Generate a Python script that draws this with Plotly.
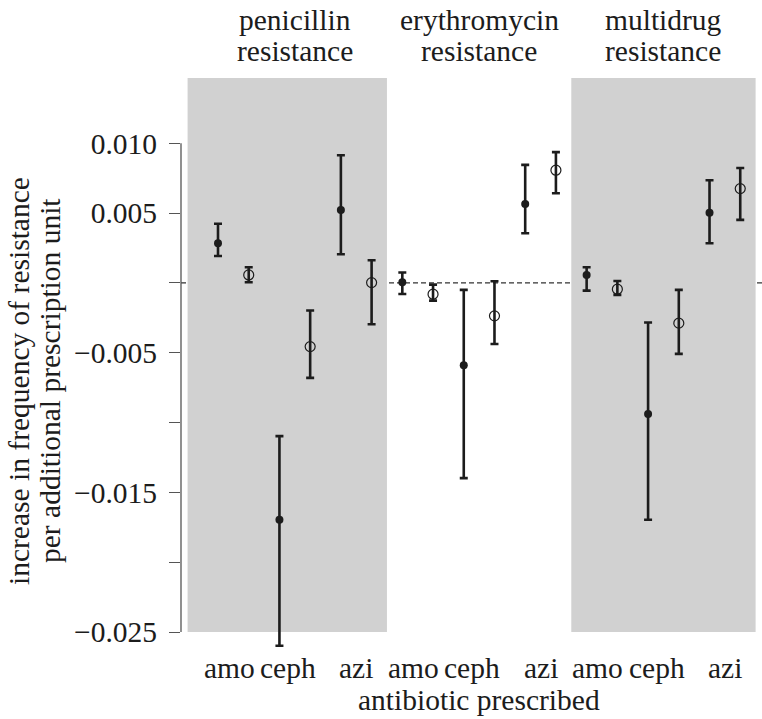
import plotly.graph_objects as go

# ---- data ----
group_line1 = ["penicillin", "erythromycin", "multidrug"]
group_line2 = ["resistance", "resistance", "resistance"]
antibiotics = ["amo", "ceph", "azi"]

# order: penicillin(amo, ceph, azi), erythromycin(amo, ceph, azi), multidrug(amo, ceph, azi)
filled_mean = [0.00284, -0.01696, 0.00522, 0.00005, -0.00589, 0.00565, 0.00057, -0.00938, 0.00503]
filled_hi = [0.00424, -0.01097, 0.00914, 0.00074, -0.00050, 0.00845, 0.00112, -0.00284, 0.00735]
filled_lo = [0.00193, -0.02598, 0.00205, -0.00079, -0.01398, 0.00356, -0.00055, -0.01696, 0.00284]

open_mean = [0.00057, -0.00456, 0.00002, -0.00081, -0.00236, 0.00807, -0.00045, -0.00288, 0.00675]
open_hi = [0.00112, -0.00198, 0.00162, -0.00012, 0.00012, 0.00936, 0.00014, -0.00050, 0.00823]
open_lo = [0.00005, -0.00680, -0.00296, -0.00127, -0.00437, 0.00642, -0.00086, -0.00508, 0.00451]

y_tickvals = [0.010, 0.005, 0.0, -0.005, -0.010, -0.015, -0.020, -0.025]
y_ticktext = ["0.010", "0.005", "", "\u22120.005", "", "\u22120.015", "", "\u22120.025"]

FONT = "Liberation Serif"
FS = 29.5
INK = "#1c1c1c"
GRAY = "#d1d1d1"

x_filled = []
x_open = []
for g in range(3):
    for a in range(3):
        x_filled.append(6 * g + 2 * a)
        x_open.append(6 * g + 2 * a + 1)

fig = go.Figure()

fig.add_trace(go.Scatter(
    x=x_filled, y=filled_mean, mode="markers",
    marker=dict(symbol="circle", size=8, color=INK),
    error_y=dict(type="data", symmetric=False,
                 array=[h - m for h, m in zip(filled_hi, filled_mean)],
                 arrayminus=[m - l for m, l in zip(filled_mean, filled_lo)],
                 thickness=2.6, width=4, color=INK),
    showlegend=False, cliponaxis=False, hoverinfo="skip"))

fig.add_trace(go.Scatter(
    x=x_open, y=open_mean, mode="markers",
    marker=dict(symbol="circle-open", size=10, color=INK, line=dict(width=1.2, color=INK)),
    error_y=dict(type="data", symmetric=False,
                 array=[h - m for h, m in zip(open_hi, open_mean)],
                 arrayminus=[m - l for m, l in zip(open_mean, open_lo)],
                 thickness=2.6, width=4, color=INK),
    showlegend=False, cliponaxis=False, hoverinfo="skip"))

Y_TOP = 0.01467
Y_BOT = -0.0275

shapes = [
    dict(type="rect", xref="x", yref="y", x0=-0.99, x1=5.5, y0=-0.025, y1=Y_TOP,
         fillcolor=GRAY, line=dict(width=0), layer="below"),
    dict(type="rect", xref="x", yref="y", x0=11.5, x1=17.5, y0=-0.025, y1=Y_TOP,
         fillcolor=GRAY, line=dict(width=0), layer="below"),
    dict(type="line", xref="paper", yref="y", x0=0, x1=1, y0=0, y1=0,
         line=dict(color="#333333", width=1.2, dash="5px,3px"), layer="below"),
    dict(type="line", xref="paper", yref="y", x0=0, x1=0, y0=-0.025, y1=0.010,
         line=dict(color="#555555", width=1.3)),
]

annotations = []
# group titles
for g in range(3):
    xc = 6 * g + 2.5
    annotations.append(dict(x=xc, xref="x", y=20, yref="paper", text=group_line1[g],
                            showarrow=False, font=dict(family=FONT, size=FS, color=INK),
                            xanchor="center", yanchor="middle"))
    annotations.append(dict(x=xc, xref="x", y=51, yref="paper", text=group_line2[g],
                            showarrow=False, font=dict(family=FONT, size=FS, color=INK),
                            xanchor="center", yanchor="middle"))

# antibiotic labels
label_offsets = [0.36, 2.28, 4.5]
for g in range(3):
    for a in range(3):
        annotations.append(dict(x=6 * g + label_offsets[a], xref="x", y=668, yref="paper",
                                text=antibiotics[a], showarrow=False,
                                font=dict(family=FONT, size=FS, color=INK),
                                xanchor="center", yanchor="middle"))

annotations.append(dict(x=8.5, xref="x", y=700, yref="paper", text="antibiotic prescribed",
                        showarrow=False, font=dict(family=FONT, size=FS, color=INK),
                        xanchor="center", yanchor="middle"))

# y title lines
annotations.append(dict(x=19, xref="paper", y=381, yref="paper",
                        text="increase in frequency of resistance", textangle=-90,
                        showarrow=False, font=dict(family=FONT, size=FS, color=INK),
                        xanchor="center", yanchor="middle"))
annotations.append(dict(x=50, xref="paper", y=381, yref="paper",
                        text="per additional prescription unit", textangle=-90,
                        showarrow=False, font=dict(family=FONT, size=FS, color=INK),
                        xanchor="center", yanchor="middle"))

W, H = 762, 719
ML, MR, MT, MB = 181, 0, 78, 52
PW = W - ML - MR
PH = H - MT - MB

# convert pixel positions in the annotations (stored as pixels) to paper coords
for ann in annotations:
    if ann["yref"] == "paper":
        ann["y"] = (H - MB - ann["y"]) / PH
    if ann["xref"] == "paper":
        ann["x"] = (ann["x"] - ML) / PW

fig.update_layout(
    width=W, height=H,
    margin=dict(l=ML, r=MR, t=MT, b=MB, pad=0),
    paper_bgcolor="white", plot_bgcolor="white",
    font=dict(family=FONT, size=FS, color=INK),
    shapes=shapes, annotations=annotations,
    hovermode=False,
    xaxis=dict(range=[(ML - 218) / 30.72, (W - 218) / 30.72], showgrid=False, zeroline=False,
               showline=False, showticklabels=False, ticks=""),
    yaxis=dict(range=[Y_BOT, Y_TOP], showgrid=False, zeroline=False, showline=False,
               tickvals=y_tickvals, ticktext=y_ticktext, ticks="outside", ticklen=11,
               tickwidth=1.3, tickcolor="#555555", ticklabelstandoff=6,
               tickfont=dict(family=FONT, size=FS, color=INK)),
)

fig.write_html(
    "out.html",
    config={"displayModeBar": False, "staticPlot": False},
    post_script="document.body.style.margin='0px';document.body.style.overflow='hidden';",
)
